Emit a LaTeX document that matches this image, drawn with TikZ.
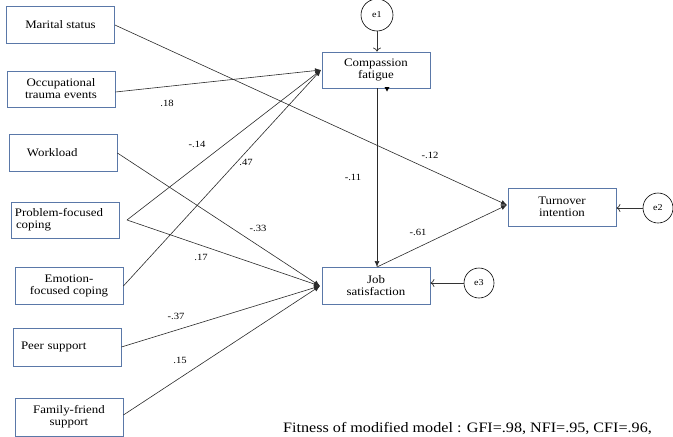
\documentclass[tikz,border=0pt]{standalone}
\usepackage{fontspec}
\setmainfont[FakeStretch=1.12]{Liberation Serif}
\usetikzlibrary{arrows.meta}
\definecolor{boxblue}{HTML}{5A78A8}
\definecolor{linegray}{HTML}{2A2A2A}
\tikzset{
  var/.style={draw=boxblue, line width=0.8pt, minimum width=108pt, minimum height=37pt, inner sep=1pt, align=center, font=\fontsize{11.5}{12}\selectfont, text=black},
  err/.style={draw=black, line width=0.6pt, circle, minimum size=30pt, inner sep=0pt, font=\fontsize{9}{10}\selectfont},
  path/.style={draw=linegray, line width=0.6pt, -{Latex[length=6pt,width=5pt]}},
  errpath/.style={draw=black!80, line width=0.7pt, -{To[length=4pt,width=8pt]}},
  coef/.style={font=\fontsize{9.5}{10}\selectfont, inner sep=0pt}
}
\begin{document}
\begin{tikzpicture}[x=1pt,y=-1pt]
\useasboundingbox (0,0) rectangle (673,437);
% exogenous boxes
\node[var] (ms) at (60.5,25) {Marital\ status};
\node[var, minimum height=36pt] (ot) at (61,89) {Occupational\\trauma events};
\node[var, text width=72pt, inner xsep=18pt, align=left] (wl) at (63,152.5) {Workload};
\node[var, minimum height=36pt, text width=101pt, inner xsep=3pt, align=left] (pf) at (65.5,220) {Problem-focused\\\hspace*{1pt}coping};
\node[var] (ef) at (69,285.5) {Emotion-\\focused coping};
\node[var, minimum height=38pt, text width=92pt, inner xsep=8pt, align=left] (ps) at (67,347) {Peer support};
\node[var, minimum height=38pt] (ff) at (69,417) {Family-friend\\support};
% endogenous boxes
\node[var, minimum height=36pt] (cf) at (376,70) {Compassion\\fatigue};
\node[var, minimum height=38pt] (ti) at (562,207) {Turnover\\intention};
\node[var] (js) at (376,285.5) {Job\\satisfaction};
% error terms
\node[err, minimum width=32pt] (e1) at (377,15) {e1};
\node[err] (e2) at (658,208) {e2};
\node[err] (e3) at (479,283) {e3};
% anchor coordinates
\coordinate (cfin) at (321,70);
\coordinate (jsin) at (320,286);
\coordinate (pfout) at (127,220);
\coordinate (tiin) at (507,205);
\coordinate (cfbot) at (377,88);
\coordinate (jstop) at (377,267);
% paths to CF
\draw[path] (ot.east |- 0,92) -- (cfin);
\draw[path] (pfout) -- (cfin);
\draw[path] (ef.east |- 0,286) -- (cfin);
% paths to JS
\draw[path] (wl.east |- 0,153) -- (jsin);
\draw[path] (pfout) -- (jsin);
\draw[path] (ps.east |- 0,347) -- (jsin);
\draw[path] (ff.east |- 0,415) -- (jsin);
\draw[path] (cfbot) -- (jstop);
% paths to TI
\draw[path] (ms.east |- 0,25) -- (tiin);
\draw[path] (jstop) -- (tiin);
% error arrows
\draw[errpath] (e1) -- (cf.north -| e1);
\draw[errpath] (e2) -- (ti.east |- e2);
\draw[errpath] (e3) -- (js.east |- e3);
% small mark under CF
\fill[black] (384.5,87) -- (389.5,87) -- (387,91.5) -- cycle;
% coefficients
\node[coef] (c1) at (167,103) {.18};
\node[coef] (c2) at (197,144) {-.14};
\node[coef] (c3) at (246,162) {.47};
\node[coef] (c4) at (430,155) {-.12};
\node[coef] (c5) at (353,177) {-.11};
\node[coef] (c6) at (258,228) {-.33};
\node[coef] (c7) at (201,257) {.17};
\node[coef] (c8) at (418,232) {-.61};
\node[coef] (c9) at (176,316) {-.37};
\node[coef] (c10) at (180,360) {.15};
\node[anchor=base west, inner sep=0pt, font=\fontsize{14.4}{16}\selectfont] (fit) at (283,432) {Fitness of modified model : GFI=.98, NFI=.95, CFI=.96,};
\end{tikzpicture}
\end{document}
